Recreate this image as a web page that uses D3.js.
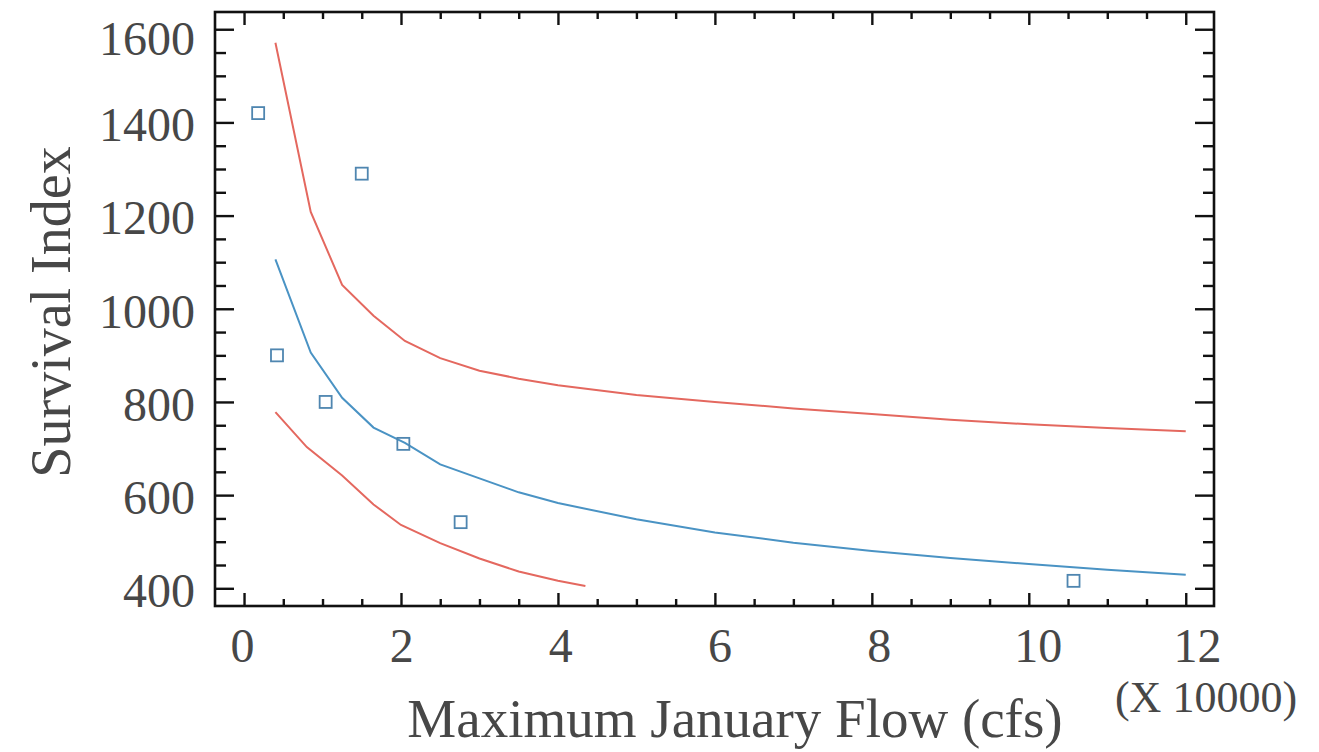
<!DOCTYPE html>
<html>
<head>
<meta charset="utf-8">
<script src="https://cdn.jsdelivr.net/npm/d3@7"></script>
<style>
  html, body { margin: 0; padding: 0; background: #ffffff; }
  svg { display: block; }
  text { font-family: "Liberation Serif", "DejaVu Serif", serif; fill: #474747; }
</style>
</head>
<body>
<svg id="chart" width="1319" height="752"></svg>
<script>
// ---- data ----
const obsFlow     = [0.18, 0.42, 1.04, 1.50, 2.03, 2.76, 10.57];
const obsSurvival = [1420, 900, 800, 1290, 710, 542, 416];

const fitFlow  = [0.4, 0.85, 1.25, 1.65, 2.05, 2.5, 3, 3.5, 4, 5, 6, 7, 8, 9, 10, 11, 12];
const fitMean  = [1106, 906, 809, 745, 712, 666, 636, 606, 583, 548, 520, 498, 480, 465, 452, 440, 429];
const fitUpper = [1571, 1208, 1051, 985, 931, 894, 867, 850, 836, 815, 800, 786, 774, 762, 752, 744, 737];

const lowFlow  = [0.4, 0.8, 1.25, 1.65, 2.0, 2.5, 3.0, 3.5, 4.0, 4.35];
const fitLower = [778, 703, 642, 580, 536, 497, 464, 436, 416, 405];

const xMajorTicks = [0, 2, 4, 6, 8, 10, 12];
const yMajorTicks = [400, 600, 800, 1000, 1200, 1400, 1600];

const xTitle = "Maximum January Flow (cfs)";
const yTitle = "Survival Index";
const xMultiplier = "(X 10000)";

// ---- layout ----
const svg = d3.select("#chart");
const frame = { left: 215, right: 1214, top: 12, bottom: 606 };

const x = d3.scaleLinear().domain([-0.37, 12.36]).range([frame.left, frame.right]);
const y = d3.scaleLinear().domain([362, 1637]).range([frame.bottom, frame.top]);

const xMinor = d3.range(0, 12.01, 0.5).filter(v => v % 2 !== 0);
const yMinor = d3.range(400, 1601, 50).filter(v => v % 200 !== 0);

const tickFont = 48;
const textColor = "#474747";

function styleAxis(g) {
  g.select(".domain").remove();
  g.selectAll(".tick line").attr("stroke", "#111").attr("stroke-width", 2.4);
}

// minor ticks (inward)
svg.append("g").attr("transform", `translate(0,${frame.bottom})`)
  .call(d3.axisBottom(x).tickValues(xMinor).tickSize(-7).tickFormat(""))
  .call(styleAxis);
svg.append("g").attr("transform", `translate(0,${frame.top})`)
  .call(d3.axisTop(x).tickValues(xMinor).tickSize(-7).tickFormat(""))
  .call(styleAxis);
svg.append("g").attr("transform", `translate(${frame.left},0)`)
  .call(d3.axisLeft(y).tickValues(yMinor).tickSize(-11).tickFormat(""))
  .call(styleAxis);
svg.append("g").attr("transform", `translate(${frame.right},0)`)
  .call(d3.axisRight(y).tickValues(yMinor).tickSize(-11).tickFormat(""))
  .call(styleAxis);

// major ticks + labels
const gxb = svg.append("g").attr("transform", `translate(0,${frame.bottom})`)
  .call(d3.axisBottom(x).tickValues(xMajorTicks).tickSize(-13).tickPadding(22).tickFormat(d3.format("d")))
  .call(styleAxis);
gxb.selectAll(".tick text")
  .attr("font-size", tickFont)
  .attr("font-family", "Liberation Serif")
  .attr("fill", textColor)
  .attr("dx", d => -2 + d * 1.1);

svg.append("g").attr("transform", `translate(0,${frame.top})`)
  .call(d3.axisTop(x).tickValues(xMajorTicks).tickSize(-13).tickFormat(""))
  .call(styleAxis);

const gyl = svg.append("g").attr("transform", `translate(${frame.left},0)`)
  .call(d3.axisLeft(y).tickValues(yMajorTicks).tickSize(-19).tickPadding(20).tickFormat(d3.format("d")))
  .call(styleAxis);
gyl.selectAll(".tick text")
  .attr("font-size", tickFont)
  .attr("font-family", "Liberation Serif")
  .attr("fill", textColor)
  .attr("dy", d => d === 1600 ? "0.52em" : "0.38em");

svg.append("g").attr("transform", `translate(${frame.right},0)`)
  .call(d3.axisRight(y).tickValues(yMajorTicks).tickSize(-19).tickFormat(""))
  .call(styleAxis);

// frame
svg.append("rect")
  .attr("x", frame.left).attr("y", frame.top)
  .attr("width", frame.right - frame.left).attr("height", frame.bottom - frame.top)
  .attr("fill", "none").attr("stroke", "#111").attr("stroke-width", 2.6);

// curves
const line = d3.line().x(d => x(d[0])).y(d => y(d[1]));
svg.append("path")
  .datum(d3.zip(fitFlow, fitUpper))
  .attr("d", line).attr("fill", "none").attr("stroke", "#e4685f").attr("stroke-width", 2);
svg.append("path")
  .datum(d3.zip(fitFlow, fitMean))
  .attr("d", line).attr("fill", "none").attr("stroke", "#4a93c4").attr("stroke-width", 2);
svg.append("path")
  .datum(d3.zip(lowFlow, fitLower))
  .attr("d", line).attr("fill", "none").attr("stroke", "#e4685f").attr("stroke-width", 2);

// observed points (open squares)
const sq = 12;
svg.append("g").selectAll("rect")
  .data(d3.zip(obsFlow, obsSurvival))
  .join("rect")
  .attr("x", d => x(d[0]) - sq / 2)
  .attr("y", d => y(d[1]) - sq / 2)
  .attr("width", sq).attr("height", sq)
  .attr("fill", "none").attr("stroke", "#4f86b0").attr("stroke-width", 1.8);

// titles
svg.append("text")
  .attr("x", 735).attr("y", 737)
  .attr("text-anchor", "middle")
  .attr("font-size", 55)
  .attr("fill", textColor)
  .text(xTitle);

svg.append("text")
  .attr("transform", "translate(70,312) rotate(-90)")
  .attr("text-anchor", "middle")
  .attr("font-size", 56)
  .attr("fill", textColor)
  .text(yTitle);

svg.append("text")
  .attr("x", 1206).attr("y", 712)
  .attr("text-anchor", "middle")
  .attr("font-size", 44)
  .attr("fill", textColor)
  .text(xMultiplier);
</script>
</body>
</html>
